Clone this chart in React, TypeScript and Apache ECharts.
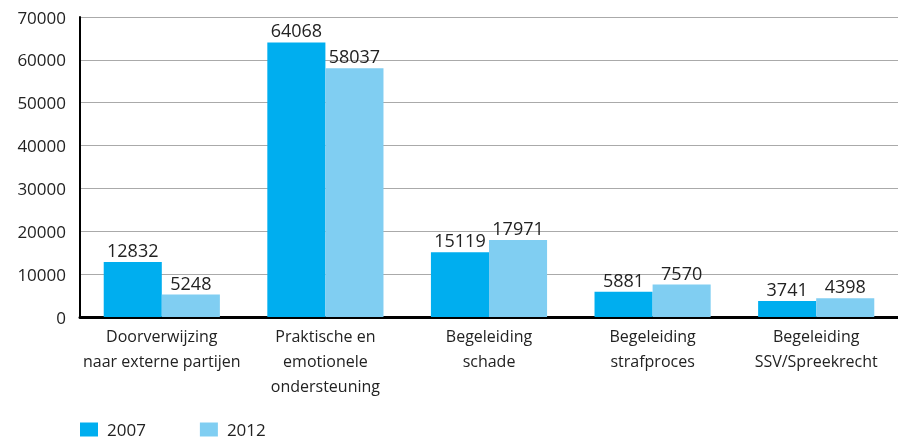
import React, { useEffect, useRef } from "react";
import * as echarts from "echarts";

const categories = [
  "Doorverwijzing\nnaar externe partijen",
  "Praktische en\nemotionele\nondersteuning",
  "Begeleiding\nschade",
  "Begeleiding\nstrafproces",
  "Begeleiding\nSSV/Spreekrecht",
];
const values2007 = [12832, 64068, 15119, 5881, 3741];
const values2012 = [5248, 58037, 17971, 7570, 4398];
const seriesNames = ["2007", "2012"];

const FONT = "'Open Sans', 'Noto Sans', sans-serif";

export default function App() {
  const ref = useRef<HTMLDivElement>(null);
  useEffect(() => {
    if (!ref.current) return;
    const chart = echarts.init(ref.current, undefined, { renderer: "svg" });
    const labelCfg = {
      show: true,
      position: "top" as const,
      distance: 3,
      color: "#222",
      fontSize: 18,
      fontFamily: FONT,
    };
    chart.setOption({
      animation: false,
      textStyle: { fontFamily: FONT },
      legend: {
        left: 80,
        top: 421,
        padding: 0,
        itemWidth: 18,
        itemHeight: 14,
        itemGap: 54,
        icon: "rect",
        textStyle: {
          fontSize: 17,
          lineHeight: 17,
          color: "#222",
          fontFamily: FONT,
          padding: [0, 0, 0, 4],
        },
        data: seriesNames,
      },
      grid: { left: 80, right: 0, top: 17, bottom: 124, containLabel: false },
      xAxis: {
        type: "category",
        data: categories,
        axisLine: { lineStyle: { color: "#000", width: 3 } },
        axisTick: { show: false },
        axisLabel: {
          color: "#222",
          fontSize: 16,
          fontFamily: FONT,
          lineHeight: 25,
          margin: 6,
          interval: 0,
        },
      },
      yAxis: {
        type: "value",
        min: 0,
        max: 70000,
        interval: 10000,
        axisLine: { show: true, lineStyle: { color: "#000", width: 2 } },
        axisTick: { show: false },
        splitLine: { lineStyle: { color: "#aaa", width: 1 } },
        axisLabel: {
          color: "#222",
          fontSize: 17,
          fontFamily: FONT,
          margin: 14,
          formatter: (v: number) => String(v),
        },
      },
      series: [
        {
          name: seriesNames[0],
          type: "bar",
          data: values2007,
          barWidth: "35.5%",
          barGap: "0%",
          itemStyle: { color: "#00AEEF" },
          label: labelCfg,
        },
        {
          name: seriesNames[1],
          type: "bar",
          data: values2012,
          barWidth: "35.5%",
          barGap: "0%",
          itemStyle: { color: "#80CEF2" },
          label: labelCfg,
        },
      ],
    });
    return () => chart.dispose();
  }, []);
  return (
    <div
      ref={ref}
      style={{ position: "fixed", left: 0, top: 0, width: 898, height: 441 }}
    />
  );
}
